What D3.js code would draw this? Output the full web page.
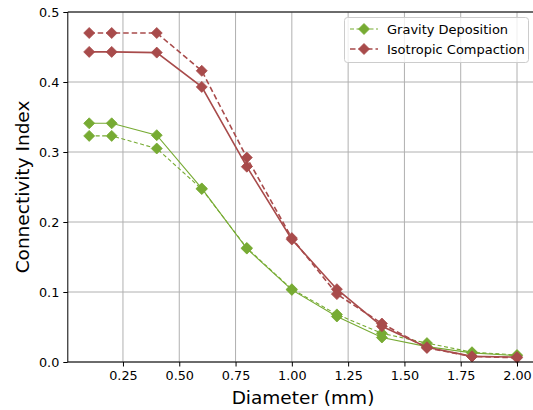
<!DOCTYPE html>
<html><head><meta charset="utf-8">
<script src="https://cdn.jsdelivr.net/npm/d3@7"></script>
<style>body{margin:0;background:#fff;} svg{display:block;font-family:"DejaVu Sans",sans-serif;}</style>
</head><body>
<svg id="c" width="533" height="410"></svg>
<script>
const diameters = [0.1, 0.2, 0.4, 0.6, 0.8, 1.0, 1.2, 1.4, 1.6, 1.8, 2.0];
const gravitySolid = [0.341, 0.341, 0.324, 0.248, 0.162, 0.103, 0.065, 0.035, 0.022, 0.013, 0.009];
const gravityDashed = [0.323, 0.323, 0.305, 0.247, 0.163, 0.104, 0.068, 0.041, 0.027, 0.014, 0.010];
const isoSolid = [0.443, 0.443, 0.442, 0.393, 0.279, 0.175, 0.104, 0.051, 0.021, 0.008, 0.007];
const isoDashed = [0.470, 0.470, 0.470, 0.416, 0.292, 0.177, 0.097, 0.055, 0.020, 0.008, 0.006];
const xTicks = [0.25, 0.5, 0.75, 1.0, 1.25, 1.5, 1.75, 2.0];
const yTicks = [0.0, 0.1, 0.2, 0.3, 0.4, 0.5];
const legendLabels = ["Gravity Deposition", "Isotropic Compaction"];

const green = "#77ab33", red = "#a84b4b";
const svg = d3.select("#c");
const L = 67.8, R = 538.4, T = 12, B = 362;
const x = d3.scaleLinear().domain([0.005, 2.095]).range([L, R]);
const y = d3.scaleLinear().domain([0, 0.5]).range([B, T]);

// grid
const g = svg.append("g");
g.selectAll(".gx").data(xTicks).join("line")
  .attr("x1", d => x(d)).attr("x2", d => x(d)).attr("y1", T).attr("y2", B)
  .attr("stroke", "#b0b0b0").attr("stroke-width", 1);
g.selectAll(".gy").data(yTicks).join("line")
  .attr("x1", L).attr("x2", R).attr("y1", d => y(d)).attr("y2", d => y(d))
  .attr("stroke", "#b0b0b0").attr("stroke-width", 1);

const series = [
  {vals: gravitySolid, color: green, dash: null, w: 1.1},
  {vals: gravityDashed, color: green, dash: "4,2.5", w: 1.1},
  {vals: isoSolid, color: red, dash: null, w: 1.6},
  {vals: isoDashed, color: red, dash: "5.5,3", w: 1.6}
];
const line = d3.line().x(d => x(d[0])).y(d => y(d[1]));
const diamond = (cx, cy, r) => `M${cx},${cy-r}L${cx+r},${cy}L${cx},${cy+r}L${cx-r},${cy}Z`;
series.forEach(s => {
  const pts = diameters.map((d, i) => [d, s.vals[i]]);
  svg.append("path").attr("d", line(pts)).attr("fill", "none")
    .attr("stroke", s.color).attr("stroke-width", s.w)
    .attr("stroke-dasharray", s.dash);
  svg.append("g").selectAll("path").data(pts).join("path")
    .attr("d", d => diamond(x(d[0]), y(d[1]), 5.5))
    .attr("fill", s.color).attr("stroke", s.color).attr("stroke-width", 0.8);
});

// axes
const xAxis = svg.append("g").attr("transform", `translate(0,${B})`)
  .call(d3.axisBottom(x).tickValues(xTicks).tickFormat(d3.format(".2f")).tickSize(4.5).tickPadding(4));
const yAxis = svg.append("g").attr("transform", `translate(${L},0)`)
  .call(d3.axisLeft(y).tickValues(yTicks).tickFormat(d3.format(".1f")).tickSize(4.5).tickPadding(4));
[xAxis, yAxis].forEach(a => {
  a.selectAll("text").attr("font-size", 12.8).attr("fill", "#000").attr("font-family", "DejaVu Sans");
  a.selectAll("line").attr("stroke", "#000").attr("stroke-width", 1);
  a.select(".domain").attr("stroke", "#000").attr("stroke-width", 1);
});
yAxis.select(".domain").attr("d", `M0,${B}V${T}`);
xAxis.select(".domain").attr("d", `M${L},0H${R}`);
svg.append("line").attr("x1", L).attr("x2", R).attr("y1", T).attr("y2", T).attr("stroke", "#000");

svg.append("text").attr("x", 303).attr("y", 404).attr("text-anchor", "middle")
  .attr("font-size", 18.5).text("Diameter (mm)");
svg.append("text").attr("transform", `translate(29,${(T+B)/2}) rotate(-90)`).attr("text-anchor", "middle")
  .attr("font-size", 18.5).text("Connectivity Index");

// legend
const lg = svg.append("g");
lg.append("rect").attr("x", 344.5).attr("y", 17.5).attr("width", 184).attr("height", 45).attr("rx", 3)
  .attr("fill", "#fff").attr("fill-opacity", 0.8).attr("stroke", "#cccccc");
legendLabels.forEach((lab, i) => {
  const cy = 29 + i * 20, col = i === 0 ? green : red;
  lg.append("line").attr("x1", 350).attr("x2", 378).attr("y1", cy).attr("y2", cy)
    .attr("stroke", col).attr("stroke-width", i === 0 ? 1.1 : 1.6).attr("stroke-dasharray", i === 0 ? "4,2.5" : "5.5,3");
  lg.append("path").attr("d", diamond(364, cy, 5.5)).attr("fill", col).attr("stroke", col).attr("stroke-width", 0.8);
  lg.append("text").attr("x", 387).attr("y", cy + 4.5).attr("font-size", 13).text(lab);
});
</script>
</body></html>
